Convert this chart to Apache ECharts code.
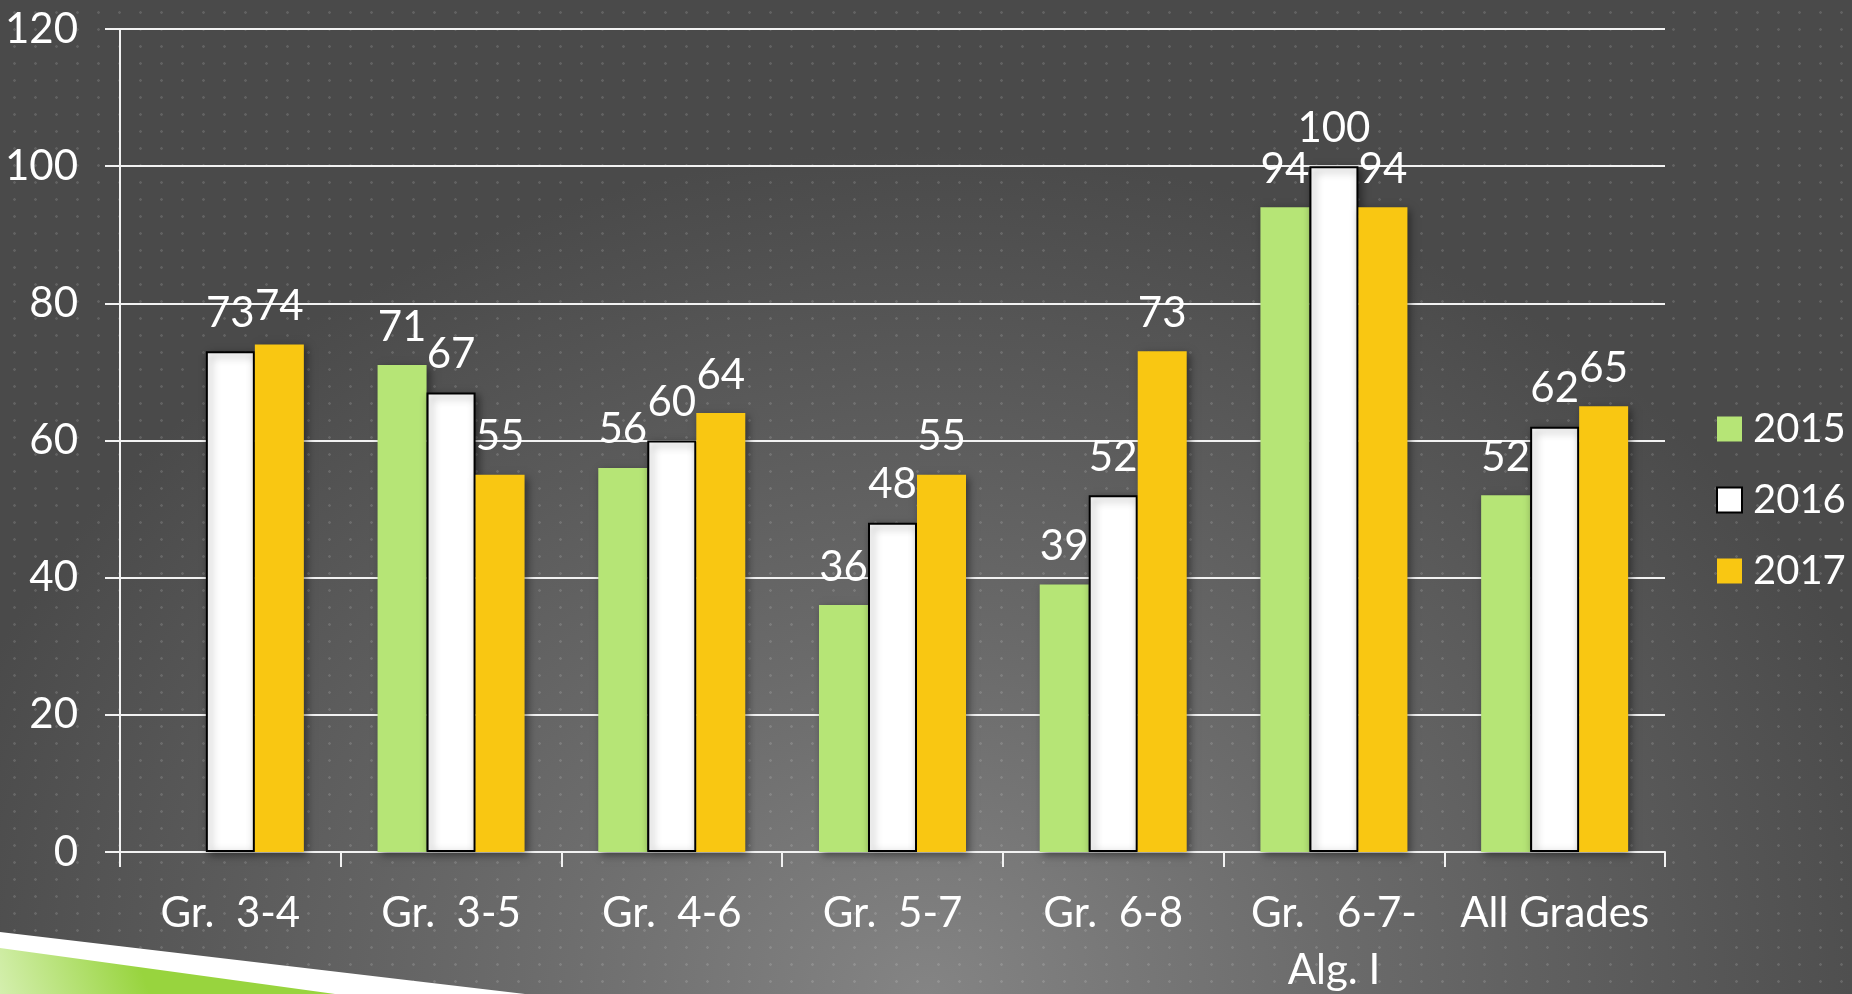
<!DOCTYPE html>
<html>
<head>
<meta charset="utf-8">
<script src="https://cdn.jsdelivr.net/npm/echarts@6/dist/echarts.min.js"></script>
<style>
  html, body {
    margin: 0;
    padding: 0;
  }
  #chart {
    width: 1852px;
    height: 994px;
    /* dotted slide texture over a soft grey glow */
    background-color: #474747;
    background-image:
      radial-gradient(circle, rgba(255, 255, 255, 0.13) 1px, transparent 1.6px),
      radial-gradient(ellipse 55% 85% at 50% 100%, #848484 0%, #6b6b6b 40%, #4a4a4a 100%);
    background-size: 21px 17px, 100% 100%;
    background-position: 4px 4px, 0 0;
  }
</style>
</head>
<body>
<div id="chart"></div>
<script>
  const categories = ["Gr.  3-4", "Gr.  3-5", "Gr.  4-6", "Gr.  5-7", "Gr.  6-8", "Gr.   6-7-\nAlg. I", "All Grades"];
  const years = ["2015", "2016", "2017"];
  const values2015 = ["-", 71, 56, 36, 39, 94, 52];
  const values2016 = [73, 67, 60, 48, 52, 100, 62];
  const values2017 = [74, 55, 64, 55, 73, 94, 65];

  const fontFamily = "Lato, 'Open Sans', sans-serif";
  const myChart = echarts.init(document.getElementById("chart"));

  // shared look for the bars
  const barShadow = {
    shadowBlur: 8,
    shadowColor: "rgba(0, 0, 0, 0.45)",
    shadowOffsetX: 3,
    shadowOffsetY: 3,
  };
  const barLabel = {
    show: true,
    position: "top",
    distance: 17,
    color: "#ffffff",
    fontSize: 42,
    fontFamily: fontFamily,
  };

  const option = {
    animation: false,
    backgroundColor: "transparent",
    grid: {
      left: 120,
      right: 187,
      top: 29,
      bottom: 142,
      containLabel: false,
      outerBoundsMode: "none", // keep the plot box fixed, labels may spill
    },
    legend: {
      data: years,
      orient: "vertical",
      left: 1711,
      top: 404,
      icon: "rect",
      itemWidth: 25,
      itemHeight: 25,
      itemGap: 31,
      textStyle: {
        color: "#ffffff",
        fontSize: 40,
        fontFamily: fontFamily,
        padding: [0, 0, 0, 6],
      },
    },
    xAxis: {
      type: "category",
      data: categories,
      axisLine: { lineStyle: { color: "#f2f2f2", width: 2 } },
      axisTick: { show: true, length: 15, lineStyle: { color: "#f2f2f2", width: 2 } },
      axisLabel: {
        interval: 0,
        color: "#ffffff",
        fontSize: 42,
        fontFamily: fontFamily,
        lineHeight: 57,
        margin: 33,
      },
    },
    yAxis: {
      type: "value",
      min: 0,
      max: 120,
      interval: 20,
      axisLine: { show: true, lineStyle: { color: "#f2f2f2", width: 2 } },
      axisTick: { show: true, length: 15, lineStyle: { color: "#f2f2f2", width: 2 } },
      axisLabel: {
        color: "#ffffff",
        fontSize: 42,
        fontFamily: fontFamily,
        margin: 42,
      },
      splitLine: { lineStyle: { color: "#f2f2f2", width: 2 } },
    },
    series: [
      {
        name: "2015",
        type: "bar",
        data: values2015,
        barWidth: 49,
        barGap: "0%",
        itemStyle: Object.assign({ color: "#b6e576" }, barShadow),
        label: barLabel,
      },
      {
        name: "2016",
        type: "bar",
        data: values2016,
        barWidth: 49,
        barGap: "0%",
        itemStyle: Object.assign({ color: "#ffffff", borderColor: "#000000", borderWidth: 2 }, barShadow),
        label: barLabel,
      },
      {
        name: "2017",
        type: "bar",
        data: values2017,
        barWidth: 49,
        barGap: "0%",
        itemStyle: Object.assign({ color: "#f9c712" }, barShadow),
        label: barLabel,
      },
    ],
    graphic: [
      {
        // white slide stripe, bottom left
        type: "polygon",
        silent: true,
        shape: { points: [[0, 932], [525, 994], [0, 994]] },
        style: { fill: "#ffffff" },
      },
      {
        type: "polygon",
        silent: true,
        shape: { points: [[0, 948], [335, 994], [0, 994]] },
        style: {
          fill: new echarts.graphic.LinearGradient(0.4, 0, 0, 1, [
            { offset: 0, color: "#98d43e" },
            { offset: 1, color: "#d4efae" },
          ]),
        },
      },
    ],
  };

  myChart.setOption(option);
  window.addEventListener("resize", myChart.resize);
</script>
</body>
</html>
